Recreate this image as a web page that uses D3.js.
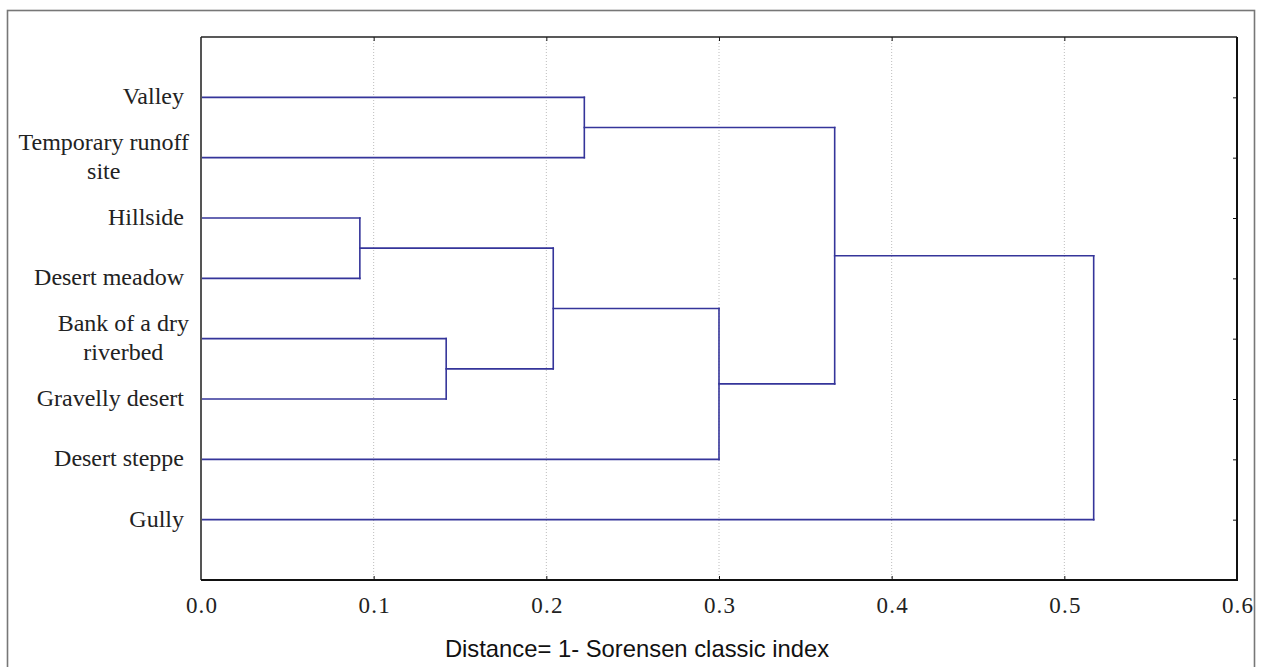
<!DOCTYPE html>
<html>
<head>
<meta charset="utf-8">
<script src="https://cdn.jsdelivr.net/npm/d3@7"></script>
<style>
  html, body { margin: 0; padding: 0; background: #fff; }
  svg { display: block; }
</style>
</head>
<body>
<svg id="chart" width="1263" height="667"></svg>
<script>
// ---- data ----
const leaves = ["Valley", "Temporary runoff site", "Hillside", "Desert meadow",
                "Bank of a dry riverbed", "Gravelly desert", "Desert steppe", "Gully"];
const leafLabelLines = [["Valley"], ["Temporary runoff", "site"], ["Hillside"], ["Desert meadow"],
                        ["Bank of a dry", "riverbed"], ["Gravelly desert"], ["Desert steppe"], ["Gully"]];
// merges produce clusters C1..C7 in order
const mergeA = ["Valley", "Hillside", "Bank of a dry riverbed", "C2", "C4", "C1", "C6"];
const mergeB = ["Temporary runoff site", "Desert meadow", "Gravelly desert", "C3", "Desert steppe", "C5", "Gully"];
const mergeHeight = [0.222, 0.092, 0.142, 0.204, 0.300, 0.367, 0.517];
const majorTicks = [0.0, 0.1, 0.2, 0.3, 0.4, 0.5, 0.6];
const minorTicks = d3.range(0, 0.6001, 0.025);
const xTitle = "Distance= 1- Sorensen classic index";

// ---- layout ----
const svg = d3.select("#chart");
const L = 201, R = 1237, T = 37, B = 580;
const lineColor = "#35359a";

const x = d3.scaleLinear().domain([0, 0.6]).range([L, R]);
const y = d3.scalePoint().domain(leaves).range([T, B]).padding(1);

// outer frame
svg.append("rect").attr("x", 7.5).attr("y", 10.5).attr("width", 1247).attr("height", 680)
  .attr("fill", "none").attr("stroke", "#777").attr("stroke-width", 1.6);

// gridlines
svg.append("g").selectAll("line").data(majorTicks.filter(d => d > 0 && d < 0.6)).join("line")
  .attr("x1", d => x(d)).attr("x2", d => x(d)).attr("y1", T).attr("y2", B)
  .attr("stroke", "#bdbdbd").attr("stroke-width", 1).attr("stroke-dasharray", "1,2");

// compute node positions
const nodePos = {};
leaves.forEach(l => nodePos[l] = { y: y(l), h: 0 });
mergeA.forEach((a, i) => {
  const b = mergeB[i], h = mergeHeight[i];
  nodePos["C" + (i + 1)] = { y: (nodePos[a].y + nodePos[b].y) / 2, h: h };
});

const segs = [];
mergeA.forEach((a, i) => {
  const b = mergeB[i], h = mergeHeight[i];
  const pa = nodePos[a], pb = nodePos[b];
  segs.push([x(pa.h), pa.y, x(h), pa.y]);
  segs.push([x(pb.h), pb.y, x(h), pb.y]);
  segs.push([x(h), pa.y, x(h), pb.y]);
});
svg.append("g").selectAll("line").data(segs).join("line")
  .attr("x1", d => d[0]).attr("y1", d => d[1]).attr("x2", d => d[2]).attr("y2", d => d[3])
  .attr("stroke", lineColor).attr("stroke-width", 1.6).attr("stroke-linecap", "square");

// axes
const gBot = svg.append("g").attr("transform", `translate(0,${B})`);
gBot.call(d3.axisBottom(x).tickValues(minorTicks).tickSize(-3).tickFormat(""));
gBot.call(d3.axisBottom(x).tickValues(majorTicks).tickSize(-4).tickPadding(17).tickFormat(d3.format(".1f")));
gBot.selectAll(".domain").remove();
gBot.selectAll("line").attr("stroke", "#111");
gBot.selectAll("text").attr("font-family", "'Liberation Serif', 'Times New Roman', serif")
  .style("font-size", "23px").attr("letter-spacing", "1.2px").attr("dx", "0.6px").attr("fill", "#222");

const gTop = svg.append("g").attr("transform", `translate(0,${T})`);
gTop.call(d3.axisTop(x).tickValues(majorTicks).tickSize(-4).tickFormat(""));
gTop.selectAll(".domain").remove();
gTop.selectAll("line").attr("stroke", "#111");

const gRight = svg.append("g").attr("transform", `translate(${R},0)`);
gRight.call(d3.axisRight(y).tickSize(-4).tickFormat(""));
gRight.selectAll(".domain").remove();
gRight.selectAll("line").attr("stroke", "#111");

// plot box
svg.append("line").attr("x1", L).attr("x2", L).attr("y1", T).attr("y2", B).attr("stroke", "#555").attr("stroke-width", 2);
svg.append("line").attr("x1", L).attr("x2", R).attr("y1", T).attr("y2", T).attr("stroke", "#222").attr("stroke-width", 1.5);
svg.append("line").attr("x1", L).attr("x2", R + 1).attr("y1", B).attr("y2", B).attr("stroke", "#111").attr("stroke-width", 2);
svg.append("line").attr("x1", R).attr("x2", R).attr("y1", T).attr("y2", B).attr("stroke", "#111").attr("stroke-width", 2);

// leaf labels
const labelRight = 184;
const gLab = svg.append("g").attr("font-family", "'Liberation Serif', 'Times New Roman', serif")
  .attr("font-size", 24).attr("fill", "#222");
leaves.forEach((l, i) => {
  const lines = leafLabelLines[i];
  const yy = y(l);
  if (lines.length === 1) {
    gLab.append("text").attr("x", labelRight).attr("y", yy + 7).attr("text-anchor", "end").text(lines[0]);
  } else {
    const t = gLab.append("text").attr("text-anchor", "middle");
    const tmp = gLab.append("text").text(lines[0]);
    const w = tmp.node().getComputedTextLength();
    tmp.remove();
    const cx = labelRight + 5 - w / 2;
    lines.forEach((ln, k) => {
      t.append("tspan").attr("x", cx).attr("y", yy - 8 + k * 29).text(ln);
    });
  }
});

// x title
svg.append("text").attr("x", 637).attr("y", 657).attr("text-anchor", "middle")
  .attr("font-family", "'Liberation Sans', Arial, sans-serif").attr("font-size", 23.8).attr("fill", "#111")
  .text(xTitle);
</script>
</body>
</html>
